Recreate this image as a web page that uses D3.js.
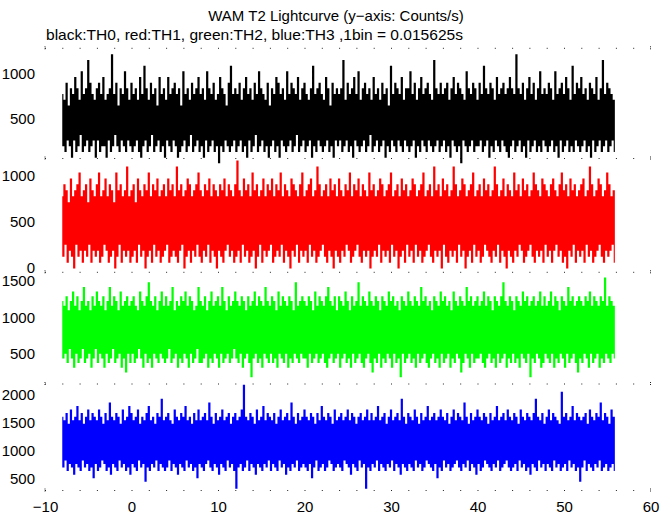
<!DOCTYPE html>
<html>
<head>
<meta charset="utf-8">
<script src="https://cdn.jsdelivr.net/npm/d3@7"></script>
<style>
  html, body { margin: 0; padding: 0; background: #fff; }
  svg { display: block; }
  text { font-family: "Liberation Sans", Arial, Helvetica, sans-serif; fill: #000; }
</style>
</head>
<body>
<svg id="chart" width="672" height="515"></svg>
<script>
// ---------------- data (counts per 1/64 s bin, sampled every 8th bin from t = -8 s) ----------------
const titleText = "WAM T2 Lightcurve (y\u2212axis: Counts/s)";
const subtitleText = "black:TH0, red:TH1, green:TH2, blue:TH3 ,1bin = 0.015625s";
const binSize = 0.015625;          // s
const sampleStep = 8 * binSize;     // s between stored samples
const tStart = -8;                  // s

const xTicks = [-10, 0, 10, 20, 30, 40, 50, 60];
const th0Ticks = [500, 1000];
const th1Ticks = [0, 500, 1000];
const th2Ticks = [500, 1000, 1500];
const th3Ticks = [500, 1000, 1500, 2000];

const th0Counts = [
12,3,11,2,14,4,10,3,13,1,12,4,15,2,13,3,11,5,16,2,12,3,13,4,18,2,14,3,12,4,11,1,
13,4,14,2,12,3,15,3,11,1,12,4,13,2,19,3,12,5,14,3,10,2,13,4,12,3,16,2,13,4,11,3,
14,2,12,3,13,4,11,2,15,1,12,3,17,4,13,2,11,3,14,5,12,2,13,3,10,4,15,2,12,3,13,1,
11,4,15,3,12,2,13,4,14,3,12,1,13,2,10,3,16,4,12,2,13,3,11,5,14,2,12,3,13,4,15,2,
12,3,13,1,11,4,16,2,13,3,12,4,14,2,11,3,12,0,15,3,13,2,12,4,10,3,14,2,17,3,12,4,
13,2,12,3,14,4,11,2,13,3,15,1,12,4,13,2,11,3,14,5,12,2,16,3,13,4,12,2,11,3,14,1,
10,3,13,4,12,2,15,3,14,1,12,4,13,3,11,2,16,3,12,4,14,2,13,3,12,5,15,2,11,3,13,4,
14,2,12,3,11,4,13,1,17,3,12,2,13,4,14,3,12,2,11,3,15,4,13,2,10,3,14,1,12,4,13,3,
12,4,13,2,18,3,11,4,14,2,12,3,13,1,15,4,12,3,16,2,11,3,13,4,14,2,12,3,13,5,11,2,
15,3,12,4,13,2,11,3,14,4,12,1,13,3,10,2,17,4,12,3,14,2,13,4,12,3,15,2,11,4,13,3,
13,2,16,3,12,4,14,1,11,3,13,2,15,4,12,3,13,2,14,4,12,3,11,2,18,3,13,4,12,2,14,3,
12,4,13,2,14,3,11,1,13,4,15,3,12,2,14,3,13,0,12,4,11,3,16,2,13,3,12,4,14,2,13,3,
11,3,14,4,12,2,17,3,13,4,12,1,14,3,13,2,11,4,15,3,12,2,13,4,14,3,12,2,13,1,15,3,
13,4,12,2,19,3,13,4,12,2,14,3,11,1,13,4,15,2,12,3,14,4,11,2,13,3,16,2,12,4,13,3,
12,2,14,3,13,4,11,2,16,3,12,1,13,4,14,2,12,3,15,4,13,2,11,3,17,2,12,4,14,3,13,2,
15,3,12,4,13,2,11,3,14,1,13,4,12,2,15,3,11,4,13,2,18,3,12,4,14,2,13,3,12,4,11,2
];

const th1Counts = [
12,2,14,4,13,1,11,3,15,2,12,0,13,4,14,2,16,3,12,1,13,3,14,2,11,4,15,1,13,3,12,2,
14,3,16,1,12,2,13,4,15,3,12,1,14,2,13,3,11,0,16,2,13,4,14,1,12,3,13,2,17,3,12,1,
13,2,14,3,11,1,15,4,13,2,12,3,14,0,13,2,16,3,12,1,14,4,13,2,15,3,12,1,13,2,14,3,
12,4,15,1,13,2,14,3,12,2,17,1,13,3,14,4,12,0,13,2,15,3,14,1,12,3,13,2,14,4,16,2,
13,1,12,3,14,2,13,4,15,1,12,3,14,2,13,0,12,3,14,2,13,1,15,3,12,4,14,2,13,3,12,1,
14,2,18,3,13,1,12,4,15,2,13,3,14,1,12,2,16,3,13,0,14,2,12,4,13,1,15,3,12,2,14,3,
13,4,15,1,12,2,14,3,13,2,16,4,12,1,14,3,13,2,12,0,15,3,14,2,13,4,12,1,14,3,16,2,
12,3,13,1,14,4,15,2,12,3,13,1,17,2,14,3,12,4,13,2,14,1,12,3,15,2,13,0,14,3,12,2,
15,1,13,3,12,2,14,4,13,3,16,1,12,2,14,3,13,4,15,2,12,1,14,3,13,2,12,3,16,0,13,2,
14,3,12,2,13,4,15,1,14,3,12,2,13,3,14,1,16,4,12,2,13,3,14,0,12,2,15,3,13,1,14,4,
12,2,13,3,15,1,14,4,12,2,13,3,14,1,16,2,12,3,13,4,14,2,12,1,17,3,13,2,14,3,12,0,
15,4,13,2,14,1,12,3,13,2,17,3,14,1,12,4,13,2,15,3,14,0,12,2,13,3,14,1,16,4,12,2,
13,3,14,1,12,2,15,4,13,3,14,2,12,1,13,3,17,2,14,4,12,1,13,3,15,2,12,0,14,3,13,2,
12,1,16,3,13,2,14,4,12,3,15,1,13,2,14,3,12,4,13,2,16,1,14,3,13,2,12,3,15,1,14,4,
13,2,12,3,14,1,15,3,13,4,12,2,14,3,16,1,13,2,14,0,12,3,15,2,13,4,14,1,12,3,13,2,
14,3,15,1,12,4,13,2,17,3,14,1,12,2,13,3,15,4,14,2,12,1,13,3,16,2,14,3,12,4,13,1
];

const th2Counts = [
19,7,18,8,20,6,17,9,19,7,21,5,18,8,20,6,17,7,19,9,22,6,18,7,19,8,17,5,20,7,18,9,
21,6,19,8,18,7,20,5,17,8,19,6,22,7,18,9,20,6,19,7,17,8,21,5,18,7,19,4,20,8,18,6,
19,8,20,6,18,7,17,9,21,7,19,5,18,8,20,6,23,7,19,5,18,8,20,7,17,6,19,8,21,7,18,6,
20,7,18,9,19,6,22,7,17,8,19,5,18,7,20,6,19,8,21,7,18,5,20,8,19,6,17,7,18,9,22,6,
19,6,18,7,20,8,17,5,19,7,21,6,18,8,19,7,20,5,18,8,22,6,19,7,17,8,20,6,18,7,19,9,
21,7,19,6,18,8,20,5,19,7,17,8,20,6,18,3,19,7,21,8,18,6,20,7,19,5,18,8,22,7,19,6,
18,8,20,6,19,7,17,5,21,8,18,7,20,6,19,8,18,5,20,7,19,6,17,8,23,7,18,6,19,8,20,7,
19,7,18,5,20,8,19,6,17,7,21,8,18,6,20,7,19,8,18,6,20,5,22,7,19,8,18,6,20,7,17,8,
20,5,19,7,18,8,21,6,19,7,17,5,20,8,18,6,19,7,23,8,18,6,20,5,19,7,18,8,21,6,19,4,
18,7,20,6,19,8,17,5,20,7,19,6,18,8,21,7,19,5,20,8,18,6,19,7,17,3,20,8,19,6,18,7,
21,8,19,6,18,7,20,5,19,8,18,6,22,7,19,8,20,6,18,5,19,7,17,8,20,6,19,7,18,5,21,8,
19,6,20,7,18,8,19,5,17,7,21,6,19,8,18,7,20,4,19,6,18,8,22,7,19,5,20,8,18,6,19,7,
20,7,18,8,19,6,21,5,18,7,20,8,19,6,17,7,20,5,19,8,18,6,20,7,23,8,19,5,18,7,20,6,
19,8,17,6,20,7,19,5,18,8,21,7,19,6,20,8,18,3,19,7,20,6,18,8,19,7,21,5,18,6,20,8,
18,7,19,6,21,8,18,5,20,7,19,6,17,8,20,7,19,5,18,8,22,6,19,7,20,8,18,6,19,4,20,7,
19,6,18,8,20,7,19,5,21,8,18,6,20,7,19,8,18,5,20,7,19,6,24,8,18,7,20,6,19,8,18,7
];

const th3Counts = [
25,11,24,13,26,10,23,12,27,11,24,9,25,12,28,11,24,10,26,13,23,11,25,12,27,10,24,11,26,8,25,12,
24,10,27,11,25,13,23,12,26,10,24,11,29,9,25,12,24,11,26,10,25,13,23,11,27,12,24,10,25,11,28,9,
26,12,24,11,25,10,27,13,23,11,25,12,24,7,26,11,28,10,24,12,25,11,23,13,26,10,25,12,30,11,24,10,
25,11,26,13,24,10,23,12,27,11,25,9,24,12,26,11,25,10,28,13,24,11,25,12,23,10,26,11,24,8,27,12,
24,11,25,10,26,12,24,13,29,11,25,10,23,12,26,11,24,9,25,12,27,11,24,10,25,13,26,11,23,12,25,10,
26,5,24,11,25,12,27,10,34,11,25,13,24,10,26,12,25,11,23,9,27,12,24,11,25,10,28,12,24,11,26,13,
25,10,24,12,26,11,23,10,25,13,27,11,24,12,25,9,26,11,24,10,29,12,25,11,23,13,26,10,24,11,25,12,
27,11,25,10,24,12,26,8,25,11,23,13,26,10,24,11,28,12,25,10,24,11,26,13,25,12,23,10,27,11,24,12,
25,11,26,10,24,13,25,12,27,11,24,9,26,12,25,11,23,10,25,13,26,11,24,12,25,5,27,11,24,10,26,12,
24,11,25,13,28,10,24,12,25,11,26,10,23,12,25,11,27,13,24,10,25,12,26,11,24,9,30,12,25,11,23,10,
26,12,25,11,24,10,27,13,25,11,23,12,26,10,24,11,25,13,28,12,24,11,25,10,26,12,24,8,25,11,27,10,
25,13,24,11,26,12,23,10,25,11,27,12,24,13,26,11,25,10,24,12,29,11,25,13,23,10,26,12,24,11,25,9,
27,12,25,10,24,11,26,13,25,12,23,11,26,10,24,12,25,11,28,13,24,10,25,11,26,12,24,13,27,11,25,10,
24,11,26,12,25,10,23,13,27,11,25,12,24,10,26,11,25,9,24,12,26,11,30,10,25,13,24,11,26,12,23,10,
25,12,27,11,24,10,26,13,25,11,24,12,23,10,32,11,25,12,26,10,24,13,25,11,28,12,24,10,26,11,25,7,
24,11,25,13,26,10,23,12,27,11,25,10,24,12,26,11,25,13,29,10,24,11,26,12,25,10,23,11,27,12,25,10
];

// ---------------- layout ----------------
const svg = d3.select("#chart");
svg.append("rect").attr("width", 672).attr("height", 515).attr("fill", "#fff");

const x = d3.scaleLinear().domain([-10, 60]).range([45, 650.5]);

const panels = [
  { counts: th0Counts, ticks: th0Ticks, color: "#000000", domain: [48, 1290],  top: 48.3,  bottom: 158.5 },
  { counts: th1Counts, ticks: th1Ticks, color: "#ff0000", domain: [-46, 1181], top: 158.5, bottom: 272.3 },
  { counts: th2Counts, ticks: th2Ticks, color: "#00ff00", domain: [91, 1615],  top: 272.3, bottom: 384 },
  { counts: th3Counts, ticks: th3Ticks, color: "#0000ff", domain: [280, 2198], top: 384,   bottom: 490.5 }
];

// sparse dotted frame lines at the panel boundaries
const frameYs = [48.3, 158.5, 272.3, 384, 490.5];
const frame = svg.append("g");
frameYs.forEach(yy => {
  frame.append("line")
    .attr("x1", x(-10)).attr("x2", x(60))
    .attr("y1", yy).attr("y2", yy)
    .attr("stroke", "#222").attr("stroke-width", 1)
    .attr("stroke-dasharray", "1,16.3");
  [x(-10), x(60)].forEach(xx => {
    frame.append("line")
      .attr("x1", xx).attr("x2", xx)
      .attr("y1", yy - 2).attr("y2", yy + 2)
      .attr("stroke", "#222").attr("stroke-width", 1)
      .attr("stroke-dasharray", "1,1");
  });
});

panels.forEach(p => {
  const y = d3.scaleLinear().domain(p.domain).range([p.bottom, p.top]);
  const line = d3.line()
    .curve(d3.curveStep)
    .x((d, i) => x(tStart + i * sampleStep))
    .y(d => y(d / binSize));

  svg.append("path")
    .datum(p.counts)
    .attr("d", line)
    .attr("fill", "none")
    .attr("stroke", p.color)
    .attr("stroke-width", 1.15);

  const ax = svg.append("g")
    .attr("transform", `translate(${x(-10)},0)`)
    .call(d3.axisLeft(y).tickValues(p.ticks).tickSize(0).tickPadding(10).tickFormat(d3.format("d")));
  ax.select(".domain").remove();
  ax.selectAll("text")
    .attr("font-family", "Liberation Sans, Arial, sans-serif")
    .attr("font-size", 15)
    .attr("fill", "#000");
});

// x axis labels
const xa = svg.append("g")
  .attr("transform", "translate(0,490.5)")
  .call(d3.axisBottom(x).tickValues(xTicks).tickSize(0).tickPadding(11));
xa.select(".domain").remove();
xa.selectAll("text")
  .attr("font-family", "Liberation Sans, Arial, sans-serif")
  .attr("font-size", 15)
  .attr("fill", "#000");

// titles
svg.append("text")
  .attr("x", 336).attr("y", 21)
  .attr("text-anchor", "middle")
  .attr("font-size", 15)
  .text(titleText);

svg.append("text")
  .attr("x", 46).attr("y", 40)
  .attr("font-size", 15)
  .attr("textLength", 417)
  .attr("lengthAdjust", "spacingAndGlyphs")
  .text(subtitleText);
</script>
</body>
</html>
